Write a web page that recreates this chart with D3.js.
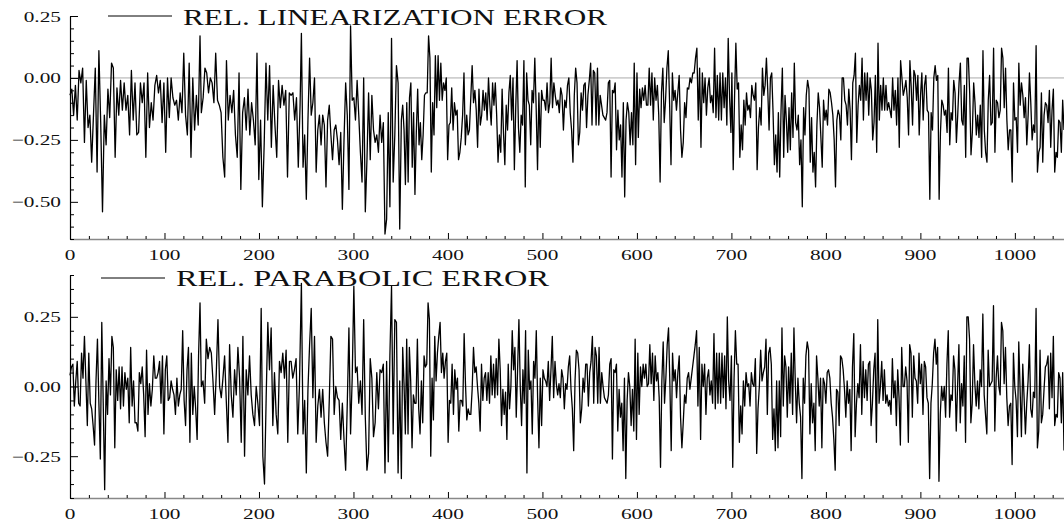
<!DOCTYPE html>
<html>
<head>
<meta charset="utf-8">
<script src="https://cdn.jsdelivr.net/npm/d3@7"></script>
<style>
  body { margin: 0; background: #fff; }
  svg { display: block; font-family: "Liberation Serif", "Times New Roman", serif; }
</style>
</head>
<body>
<div id="chart"></div>
<script>
// relative linearization error in pieces; each piece spans [from, to] in x
const linSpans = [[0, 137.6], [139, 243.5], [244.9, 350.7], [352.1, 699.5], [700.5, 1052]];
const linA1 = [-0.07,-0.045,-0.15,-0.03,-0.17,0.03,-0.02,0.04,-0.26,-0.01,-0.20,-0.15,-0.34,-0.15,0.04,-0.38,0.11,-0.18,-0.54,-0.15,-0.27,-0.045,-0.16,0.06,0.04,-0.32,-0.04,-0.15,-0.01,-0.13,-0.02,-0.13,-0.07,-0.23,0.03,-0.17,-0.02,-0.23,-0.22,-0.02,-0.10,-0.02,-0.32,0.02,-0.20,-0.10,-0.17,-0.03,0.01,-0.06,-0.01,-0.18,-0.02,-0.30,0.00,-0.16,0.00,-0.08,-0.11,-0.09,-0.17,-0.06,-0.14,0.10,-0.15,-0.23,0.06,-0.32,0.00,-0.21,-0.07,-0.19,0.17];
const linA2 = [-0.14,-0.08,0.04,0.02,-0.06,0.00,-0.02,-0.10,0.10,-0.09,-0.11,-0.14,-0.32,-0.40,0.07,-0.17,-0.07,-0.14,-0.05,-0.23,-0.32,0.02,-0.45,-0.14,-0.08,-0.21,-0.045,-0.23,-0.10,-0.17,-0.27,0.10,-0.41,-0.17,-0.52,-0.27,0.06,-0.17,0.05,-0.28,-0.03,-0.19,-0.32,-0.01,-0.12,-0.03,-0.11,-0.05,-0.40,-0.06,-0.07,-0.06,-0.17,-0.08,-0.36,-0.11];
const linA3 = [0.18,-0.36,-0.23,-0.49,-0.17,0.08,-0.15,-0.10,0.00,-0.38,-0.21,-0.15,-0.27,-0.15,-0.19,-0.44,-0.17,-0.11,-0.23,-0.33,-0.21,-0.19,-0.25,-0.35,-0.22,-0.53,-0.25,-0.02,-0.15,-0.45,0.21,-0.09,-0.08,-0.17,-0.01,-0.15,-0.30,-0.42,0.00,-0.54,-0.33,-0.06,-0.33,-0.07,-0.21,-0.26,-0.23,-0.30,-0.15,-0.26,-0.18,-0.63,-0.57,-0.14,-0.52,0.16,-0.42,-0.23,0.05,-0.02,-0.61,-0.17];
const linB = [-0.11,-0.21,-0.43,-0.10,-0.42,-0.08,-0.02,-0.36,-0.14,-0.47,-0.22,-0.045,-0.27,-0.18,-0.33,-0.23,-0.07,-0.06,-0.06,0.17,0.08,-0.38,-0.10,-0.23,0.09,-0.12,0.09,-0.09,0.06,-0.09,-0.02,-0.05,0.00,-0.33,-0.19,-0.18,-0.04,-0.21,-0.10,-0.15,-0.13,-0.33,-0.30,-0.24,-0.15,0.02,-0.27,-0.15,-0.23,-0.21,-0.08,0.05,-0.10,-0.05,-0.13,-0.28,-0.045,-0.19,-0.15,-0.05,-0.13,-0.06,-0.17,0.00,-0.11,-0.19,-0.02,-0.11,-0.02,-0.15,-0.34,-0.23,-0.30,-0.045,-0.22,-0.35,-0.11,-0.21,-0.06,0.01,-0.17,0.00,-0.37,-0.12,0.07,-0.20,-0.30,-0.15,-0.19,0.07,-0.44,0.02,-0.09,-0.11,-0.27,-0.05,-0.10,0.08,-0.12,-0.37,-0.06,-0.28,-0.05,-0.09,-0.09,-0.13,-0.02,-0.14,-0.10,0.08,-0.12,-0.02,-0.07,-0.11,-0.09,-0.14,-0.04,-0.07,-0.21,-0.09,-0.12,-0.03,0.00,-0.14,-0.21,-0.34,-0.07,0.04,-0.02,-0.27,-0.22,-0.06,-0.13,-0.03,-0.02,-0.20,-0.07,-0.01,0.06,-0.19,0.03,0.02,-0.19,0.04,-0.19,-0.07,-0.11,-0.15,-0.16,-0.17,-0.14,-0.02,-0.01,-0.40,-0.05,-0.06,-0.02,-0.29,-0.13,-0.25,-0.19,-0.40,-0.10,-0.48,-0.17,-0.10,-0.14,-0.27,-0.14,-0.27,0.06,-0.35,0.02,-0.24,-0.045,-0.12,-0.04,-0.09,-0.03,-0.11,-0.11,0.04,-0.11,0.02,-0.17,0.00,-0.09,-0.03,-0.15,-0.42,-0.06,0.04,-0.18,-0.09,0.04,0.11,-0.11,-0.35,0.02,-0.09,-0.05,-0.13,-0.06,0.01,-0.21,-0.32,-0.26,-0.10,-0.16,-0.04,-0.045,0.00,-0.02,0.02,0.02,0.08,0.12,-0.17,0.04,-0.28,0.02,-0.10,0.00,-0.15,-0.04,0.00,-0.10,-0.07,-0.14,0.12,-0.16,0.01,-0.17,0.02,-0.17,0.02,-0.12,0.00,-0.19,0.16,-0.08,-0.22];
const linC = [0.02,-0.37,-0.08,0.14,-0.045,-0.02,-0.32,-0.19,-0.29,-0.09,-0.19,-0.06,-0.13,-0.11,-0.16,-0.03,-0.07,-0.09,-0.02,-0.37,-0.20,-0.12,-0.19,0.04,-0.07,-0.03,0.08,-0.05,-0.21,0.00,0.02,-0.14,-0.35,-0.23,-0.38,-0.14,-0.40,-0.13,0.04,-0.32,-0.07,-0.17,-0.30,-0.12,-0.29,-0.06,-0.24,0.06,-0.18,-0.21,-0.15,-0.35,-0.25,-0.52,-0.12,-0.23,-0.07,-0.01,-0.045,-0.34,-0.16,-0.38,-0.30,-0.44,-0.19,-0.06,-0.12,-0.24,-0.36,-0.09,-0.17,-0.13,-0.19,-0.045,-0.06,-0.10,-0.15,-0.25,-0.44,-0.17,-0.13,-0.15,-0.25,0.00,0.00,-0.09,-0.11,-0.19,-0.045,-0.13,-0.33,-0.02,0.01,0.10,-0.26,-0.11,-0.03,-0.09,0.08,-0.17,0.02,-0.09,0.02,-0.15,0.00,-0.05,-0.25,-0.18,0.01,-0.30,0.14,-0.17,-0.03,-0.13,0.00,-0.13,-0.03,-0.13,-0.10,-0.13,-0.16,0.00,-0.13,-0.05,-0.19,0.00,-0.28,0.07,0.00,-0.07,-0.045,-0.01,-0.08,-0.23,0.07,-0.04,-0.19,0.03,0.01,-0.09,0.01,-0.23,-0.07,0.02,-0.17,-0.03,0.01,-0.13,-0.14,-0.49,-0.14,-0.21,0.00,0.05,-0.01,0.01,-0.49,-0.22,-0.09,-0.11,-0.15,-0.13,-0.22,0.04,-0.27,-0.14,-0.17,-0.01,-0.06,-0.26,-0.15,-0.02,0.06,-0.17,-0.19,-0.03,-0.32,0.08,0.08,-0.06,-0.31,-0.22,-0.02,-0.10,-0.23,-0.15,-0.24,-0.11,-0.32,0.11,-0.21,-0.30,-0.34,-0.09,0.01,-0.19,-0.18,0.12,-0.30,-0.09,-0.10,-0.16,-0.13,0.12,0.08,-0.12,0.04,-0.17,-0.29,-0.21,-0.21,-0.42,-0.02,-0.17,-0.16,-0.30,0.06,-0.11,-0.02,-0.07,-0.16,-0.08,-0.27,-0.15,0.02,-0.10,-0.25,-0.19,-0.22,0.13,-0.38,-0.30,-0.28,-0.06,-0.34,-0.15,-0.10,-0.11,-0.18,-0.05,-0.28,-0.13,-0.045,-0.38,-0.30,-0.32,-0.17,-0.18,-0.30,-0.09,-0.21];

// relative parabolic error
const parSpans = [[0, 137.6], [139, 242.8], [244.9, 350.7], [352.1, 698.5], [700, 1052]];
const parA1 = [0.04,0.07,0.08,-0.07,0.02,0.09,-0.06,-0.07,0.12,0.03,0.18,0.02,-0.14,0.12,-0.06,-0.08,-0.14,-0.21,0.02,0.17,-0.06,-0.26,0.23,-0.06,-0.37,0.02,-0.10,0.10,-0.03,0.18,0.14,-0.22,0.06,-0.05,0.07,-0.08,0.07,-0.07,0.05,-0.01,0.03,-0.13,0.14,-0.07,0.02,-0.13,-0.13,-0.16,0.05,0.01,0.07,-0.03,-0.18,0.13,-0.10,0.01,-0.07,-0.01,0.11,0.03,0.03,0.05,0.09,-0.06,0.11,-0.17,0.06,0.11,-0.05,-0.04,0.02,-0.01,-0.03,-0.10,0.03,-0.07,-0.03,-0.01,0.20,-0.05,-0.14,0.06,0.14,-0.20,0.12,-0.10,0.00,-0.08,-0.19,0.11,0.30];
const parA2 = [0.00,0.02,-0.06,0.17,0.10,0.14,0.12,0.02,-0.10,0.05,0.24,0.00,-0.04,0.03,0.11,-0.05,-0.20,0.15,-0.03,-0.11,0.06,-0.03,0.14,0.03,-0.20,0.18,-0.25,0.06,-0.03,0.11,-0.03,-0.10,-0.14,0.00,-0.06,-0.14,0.28,-0.25,-0.35,-0.04,0.23,0.06,0.21,-0.14,0.05,-0.10,-0.17,0.09,0.05,0.12,0.03,0.13,-0.20,0.09,0.09,0.03,0.06,0.10,-0.17,0.00];
const parA3 = [0.37,-0.17,-0.05,-0.31,-0.01,0.15,0.28,-0.04,0.18,-0.20,-0.07,-0.01,-0.11,-0.01,-0.13,-0.20,-0.25,-0.05,0.18,0.17,-0.10,0.00,-0.04,-0.05,-0.19,-0.06,-0.19,-0.30,-0.06,0.21,-0.17,0.03,0.36,0.05,0.07,-0.06,0.02,-0.10,0.24,-0.11,-0.30,-0.24,0.10,0.03,-0.18,-0.13,0.05,-0.08,0.06,0.05,0.08,-0.31,0.09,-0.27,0.11,0.36,-0.17,0.24,0.23,-0.31,0.02,-0.33];
const parB = [0.14,0.01,-0.17,0.17,-0.17,0.14,0.02,-0.22,-0.03,-0.06,-0.06,0.17,-0.08,-0.17,0.02,-0.13,0.11,0.07,0.08,0.30,0.24,-0.25,0.03,-0.12,0.18,0.02,0.12,0.18,0.23,0.05,0.12,0.03,0.09,0.12,-0.20,-0.05,-0.06,0.08,-0.10,0.06,-0.01,0.03,-0.16,-0.05,-0.05,-0.07,0.19,0.01,-0.12,-0.08,-0.10,-0.10,-0.01,0.14,0.05,0.07,0.00,-0.06,-0.16,0.08,-0.05,0.03,0.05,-0.05,0.05,-0.06,0.11,-0.03,0.08,-0.04,0.10,-0.03,0.17,0.06,-0.14,-0.01,-0.10,-0.02,-0.19,0.08,-0.08,0.00,0.20,0.06,0.14,-0.11,0.06,0.24,0.00,-0.14,0.06,-0.06,0.20,-0.31,0.13,-0.01,0.02,-0.17,0.09,0.03,0.20,-0.04,-0.22,0.03,-0.14,0.06,0.03,0.02,0.00,0.09,-0.05,0.06,0.18,-0.04,0.09,0.01,-0.03,0.01,-0.04,0.06,0.03,-0.08,0.01,-0.01,0.07,0.11,-0.01,-0.08,-0.23,0.02,0.13,0.12,0.06,-0.13,-0.08,0.03,-0.02,0.08,0.08,-0.07,0.05,0.09,0.18,-0.06,0.14,0.11,-0.06,0.14,-0.06,0.05,0.00,-0.04,-0.05,-0.06,-0.03,0.08,0.10,-0.26,0.06,0.05,0.08,-0.16,-0.01,-0.11,-0.06,-0.23,0.03,-0.33,-0.05,0.05,0.00,-0.14,-0.01,-0.16,0.17,-0.19,0.12,-0.10,0.07,0.00,0.08,0.03,0.08,0.00,0.01,0.15,0.01,0.12,-0.05,0.11,0.02,0.05,-0.04,-0.29,0.02,0.16,-0.06,0.03,0.15,0.21,0.01,-0.23,0.12,0.02,0.06,-0.04,0.05,0.11,-0.11,-0.22,-0.13,-0.03,-0.06,0.03,0.05,-0.01,0.03,0.07,0.11,0.15,0.20,-0.07,0.14,-0.19,0.08,0.00,0.08,-0.10,0.03,0.06,-0.03,0.02,-0.06,0.19,-0.08,0.12,-0.06,0.12,-0.06,0.12,-0.04,0.11,-0.08,0.25,0.02,-0.05];
const parC = [0.11,-0.29,0.03,0.20,0.08,0.08,-0.20,-0.07,-0.17,0.02,-0.07,0.05,0.00,0.01,-0.07,0.05,0.01,0.00,0.10,-0.24,-0.08,0.00,0.13,0.02,0.05,0.07,0.17,-0.10,0.12,0.14,0.08,-0.19,-0.08,-0.23,0.02,-0.22,0.02,-0.18,0.21,-0.07,0.11,0.07,-0.11,0.07,-0.06,0.12,-0.10,0.21,0.02,-0.13,0.03,-0.06,-0.11,-0.33,0.03,-0.06,0.11,0.16,0.13,-0.17,0.01,-0.13,-0.06,-0.23,0.11,0.03,-0.07,0.03,-0.22,0.03,0.01,-0.06,0.05,0.06,0.03,-0.06,-0.11,-0.19,-0.30,-0.01,-0.02,-0.14,0.11,0.10,0.06,-0.01,-0.11,0.02,-0.06,-0.01,-0.23,0.07,0.19,-0.18,-0.06,0.01,-0.04,0.15,-0.10,0.09,-0.04,0.06,-0.05,0.08,0.09,-0.14,-0.06,0.06,0.12,-0.20,0.24,-0.06,0.00,0.09,-0.05,0.06,-0.06,-0.03,-0.07,-0.05,-0.10,0.10,-0.04,0.02,-0.14,0.06,-0.04,-0.21,0.14,0.00,0.00,0.07,0.02,-0.20,0.15,0.12,-0.11,0.11,0.03,0.02,-0.06,0.12,0.01,0.08,-0.10,0.09,0.07,-0.04,-0.06,-0.33,-0.06,0.01,0.12,0.17,0.08,0.14,-0.34,-0.10,0.00,-0.05,0.00,-0.11,0.08,0.20,-0.11,-0.03,-0.05,0.11,0.06,-0.16,0.00,0.15,-0.13,0.01,-0.07,0.11,-0.20,0.25,0.25,0.17,-0.13,-0.06,0.15,0.01,-0.07,0.02,-0.08,0.06,0.00,0.26,-0.03,-0.10,-0.17,0.13,0.00,0.01,0.02,0.29,-0.16,0.03,0.11,0.00,-0.03,0.23,0.20,0.01,0.14,-0.04,-0.14,-0.07,-0.06,-0.28,0.12,0.00,-0.05,-0.18,0.16,-0.01,-0.18,0.08,-0.04,-0.17,-0.06,0.02,0.15,-0.08,-0.11,-0.02,-0.04,0.28,-0.22,-0.16,0.13,-0.13,-0.10,-0.01,0.07,0.08,0.11,-0.08,0.12,-0.04,0.18,-0.14,-0.10,-0.11,0.05,0.03,-0.13,0.05,-0.23];

const xTicksMajor = [0, 100, 200, 300, 400, 500, 600, 700, 800, 900, 1000];
const topYLabels = [0.25, 0, -0.25, -0.5];
const botYLabels = [0.25, 0, -0.25];

function toPoints(spans, parts) {
  return parts.flatMap((vals, k) => {
    const [a, b] = spans[k];
    return vals.map((v, i) => [a + (b - a) * i / (vals.length - 1), v]);
  });
}

const width = 1064, height = 521;
const svg = d3.select("#chart").append("svg")
  .attr("width", width)
  .attr("height", height);

const x = d3.scaleLinear().domain([0, 1052]).range([70, 1064]);
const fmt = d3.format(".2f");

// stretch a text element horizontally to look like the wide serif in the original
function stretch(sel, k) {
  sel.each(function() {
    const w = this.getComputedTextLength();
    d3.select(this).attr("textLength", w * k).attr("lengthAdjust", "spacingAndGlyphs");
  });
}

function panel(cfg) {
  const y = d3.scaleLinear().domain(cfg.domain).range([cfg.bottom, cfg.top]);
  const g = svg.append("g");

  // zero line
  g.append("line")
    .attr("x1", x(0)).attr("x2", width)
    .attr("y1", y(0)).attr("y2", y(0))
    .attr("stroke", "#aaa").attr("stroke-width", 1);

  // x axis with inward ticks
  const xMinor = d3.range(0, 1052, 20);
  const gx = g.append("g")
    .attr("transform", `translate(0,${cfg.bottom})`)
    .call(d3.axisBottom(x).tickValues(xMinor).tickSizeOuter(0).tickFormat(""));
  gx.select(".domain").attr("stroke", "#888").attr("stroke-width", 1.6);
  gx.selectAll(".tick line")
    .attr("y2", d => d % 100 === 0 ? -6 : -3)
    .attr("stroke", "#000");

  g.selectAll(null).data(xTicksMajor).join("text")
    .attr("x", d => x(d))
    .attr("y", cfg.bottom + 21)
    .attr("text-anchor", "middle")
    .attr("font-size", 15)
    .attr("fill", "#111")
    .text(d => d)
    .call(stretch, 1.42);

  // y axis with inward ticks
  const n0 = Math.round(cfg.domain[0] / 0.05), n1 = Math.round(cfg.domain[1] / 0.05);
  const yMinor = d3.range(n0, n1 + 1).map(i => i * 0.05);
  const gy = g.append("g")
    .attr("transform", `translate(${x(0)},0)`)
    .call(d3.axisLeft(y).tickValues(yMinor).tickSizeOuter(0).tickFormat(""));
  gy.select(".domain").attr("stroke", "#000").attr("stroke-width", 1.2);
  gy.selectAll(".tick line")
    .attr("x2", d => Math.abs(d / 0.25 - Math.round(d / 0.25)) < 1e-6 ? 8 : 4)
    .attr("stroke", "#000");

  g.selectAll(null).data(cfg.yLabels).join("text")
    .attr("x", 61)
    .attr("y", d => y(d) + 5.5)
    .attr("text-anchor", "end")
    .attr("font-size", 15)
    .attr("fill", "#111")
    .text(d => fmt(d))
    .call(stretch, 1.42);

  // series
  const line = d3.line().x(d => x(d[0])).y(d => y(d[1]));
  g.append("path")
    .datum(cfg.points)
    .attr("fill", "none")
    .attr("stroke", "#000")
    .attr("stroke-width", 1.3)
    .attr("stroke-linejoin", "round")
    .attr("d", line);

  // legend
  g.append("line")
    .attr("x1", cfg.legend.x1).attr("x2", cfg.legend.x2)
    .attr("y1", cfg.legend.y).attr("y2", cfg.legend.y)
    .attr("stroke", "#000").attr("stroke-width", 1);
  g.append("text")
    .attr("x", cfg.legend.tx)
    .attr("y", cfg.legend.ty)
    .attr("font-size", 24)
    .attr("fill", "#111")
    .attr("textLength", cfg.legend.tw)
    .attr("lengthAdjust", "spacingAndGlyphs")
    .text(cfg.label);
}

panel({
  domain: [-0.65, 0.25], top: 16, bottom: 239,
  yLabels: topYLabels,
  points: toPoints(linSpans, [linA1, linA2, linA3, linB, linC]),
  label: "REL. LINEARIZATION ERROR",
  legend: { x1: 108, x2: 172, y: 16, tx: 183, ty: 25, tw: 424 }
});

panel({
  domain: [-0.4, 0.4], top: 275, bottom: 498,
  yLabels: botYLabels,
  points: toPoints(parSpans, [parA1, parA2, parA3, parB, parC]),
  label: "REL. PARABOLIC ERROR",
  legend: { x1: 101, x2: 165, y: 278, tx: 176, ty: 286, tw: 373 }
});
</script>
</body>
</html>
